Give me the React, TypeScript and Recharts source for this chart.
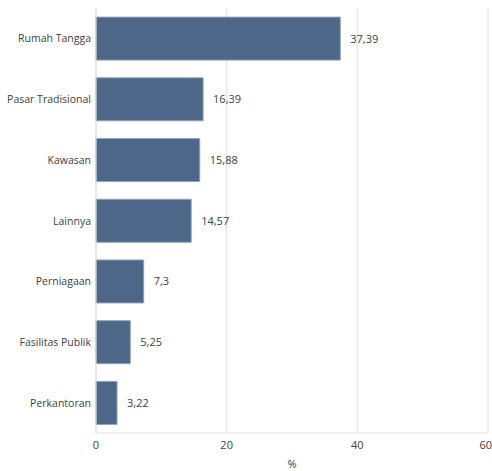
import { Bar, BarChart, CartesianGrid, LabelList, XAxis, YAxis } from "recharts";

// カテゴリ別の割合（%）
const categories = [
  "Rumah Tangga",
  "Pasar Tradisional",
  "Kawasan",
  "Lainnya",
  "Perniagaan",
  "Fasilitas Publik",
  "Perkantoran",
];
const values = [37.39, 16.39, 15.88, 14.57, 7.3, 5.25, 3.22];
const xTicks = [0, 20, 40, 60];

const BAR = "#4d6788";
const GRID = "#e0e0e0";
const TEXT = "#404040";
const FONT = "'Open Sans', 'Noto Sans', sans-serif";

const data = categories.map((name, i) => ({ name, value: values[i] }));

const fmt = (v: unknown) => String(v).replace(".", ",");

// 折り返さない左軸ラベル
function CategoryTick(props: any) {
  const { x, y, payload } = props;
  return (
    <text x={x + 3} y={y} dy={4} textAnchor="end" fontSize={10.5} fill={TEXT} fontFamily={FONT}>
      {payload.value}
    </text>
  );
}

export default function App() {
  return (
    <div style={{ position: "absolute", left: 0, top: 0, fontFamily: FONT }}>
      <BarChart
        width={492}
        height={471}
        data={data}
        layout="vertical"
        margin={{ top: 8, right: 4, left: 0, bottom: 0 }}
        barCategoryGap="15%"
      >
        <CartesianGrid stroke={GRID} horizontal={false} />
        <XAxis
          type="number"
          domain={[0, 60]}
          ticks={xTicks}
          tick={{ fontSize: 11, fill: TEXT, fontFamily: FONT }}
          stroke={GRID}
          tickLine={false}
          height={38}
          label={{ value: "%", position: "insideBottom", offset: 3, fontSize: 11, fill: TEXT, fontFamily: FONT }}
        />
        <YAxis
          type="category"
          dataKey="name"
          width={96}
          tick={<CategoryTick />}
          stroke={GRID}
          tickLine={false}
        />
        <Bar dataKey="value" fill={BAR} stroke="#8fa3bb" strokeWidth={1} isAnimationActive={false}>
          <LabelList
            dataKey="value"
            position="right"
            offset={10}
            formatter={fmt}
            style={{ fontSize: 11, fill: TEXT, fontFamily: FONT }}
          />
        </Bar>
      </BarChart>
    </div>
  );
}
